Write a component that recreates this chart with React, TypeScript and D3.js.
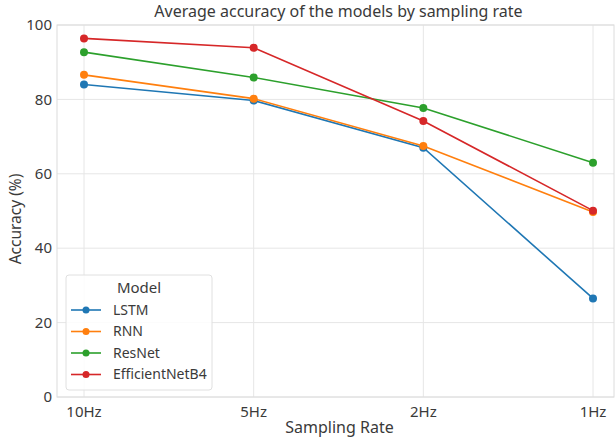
import React from "react";
import * as d3 from "d3";

const rates = ["10Hz", "5Hz", "2Hz", "1Hz"];
const lstm = [84.0, 79.7, 67.0, 26.5];
const rnn = [86.6, 80.2, 67.5, 49.7];
const resnet = [92.7, 85.9, 77.7, 63.0];
const effnet = [96.4, 93.9, 74.2, 50.1];
const yTicks = [0, 20, 40, 60, 80, 100];

const series = [
  { name: "LSTM", values: lstm, color: "#1f77b4" },
  { name: "RNN", values: rnn, color: "#ff7f0e" },
  { name: "ResNet", values: resnet, color: "#2ca02c" },
  { name: "EfficientNetB4", values: effnet, color: "#d62728" },
];

const font = "'Noto Sans', 'Open Sans', sans-serif";

export default function App() {
  const width = 615;
  const height = 437;
  const left = 57, right = 614, top = 25, bottom = 397;

  const x = d3.scalePoint<string>().domain(rates).range([84, 593]);
  const y = d3.scaleLinear().domain([0, 100]).range([bottom, top]);
  const line = d3.line<number>()
    .x((_, i) => x(rates[i]) as number)
    .y(d => y(d));

  return (
    <svg width={width} height={height}
      style={{ position: "absolute", left: 0, top: 0, fontFamily: font }}>
      <rect width={width} height={height} fill="#fff" />
      {/* grid */}
      {yTicks.map(t => (
        <line key={"gy" + t} x1={left} x2={right} y1={y(t)} y2={y(t)}
          stroke="#e6e6e6" strokeWidth={1} />
      ))}
      {rates.map(r => (
        <line key={"gx" + r} x1={x(r)} x2={x(r)} y1={top} y2={bottom}
          stroke="#e6e6e6" strokeWidth={1} />
      ))}
      {/* frame */}
      <rect x={left} y={top} width={right - left} height={bottom - top}
        fill="none" stroke="#dcdcdc" strokeWidth={1} />
      {/* tick labels */}
      {yTicks.map(t => (
        <text key={"ty" + t} x={left - 5} y={y(t)} dy="0.35em" textAnchor="end"
          fontSize={15} fill="#3a3a3a">{t}</text>
      ))}
      {rates.map(r => (
        <text key={"tx" + r} x={x(r)} y={bottom + 20} textAnchor="middle"
          fontSize={15} fill="#3a3a3a">{r}</text>
      ))}
      {/* axis labels */}
      <text x={(left + right) / 2 + 4} y={433} textAnchor="middle" fontSize={16}
        fill="#3a3a3a">Sampling Rate</text>
      <text transform={`translate(21,${(top + bottom) / 2 + 8}) rotate(-90)`}
        textAnchor="middle" fontSize={15.5} fill="#3a3a3a">Accuracy (%)</text>
      <text x={(left + right) / 2 + 3} y={17} textAnchor="middle" fontSize={16}
        fill="#3a3a3a">Average accuracy of the models by sampling rate</text>
      {/* lines */}
      {series.map(s => (
        <g key={s.name}>
          <path d={line(s.values) || ""} fill="none" stroke={s.color}
            strokeWidth={1.6} />
          {s.values.map((v, i) => (
            <circle key={i} cx={x(rates[i])} cy={y(v)} r={4} fill={s.color} />
          ))}
        </g>
      ))}
      {/* legend */}
      <g transform="translate(66,275)">
        <rect x={0} y={0} width={146} height={115} rx={3}
          fill="#fff" fillOpacity={0.85} stroke="#e0e0e0" />
        <text x={73} y={18} textAnchor="middle" fontSize={15} fill="#3a3a3a">Model</text>
        {series.map((s, i) => (
          <g key={s.name} transform={`translate(0,${35 + i * 21.5})`}>
            <line x1={5} x2={35} y1={0} y2={0} stroke={s.color} strokeWidth={1.6} />
            <circle cx={20} cy={0} r={3.5} fill={s.color} />
            <text x={47} y={0} dy="0.35em" fontSize={14} fill="#3a3a3a">{s.name}</text>
          </g>
        ))}
      </g>
    </svg>
  );
}
